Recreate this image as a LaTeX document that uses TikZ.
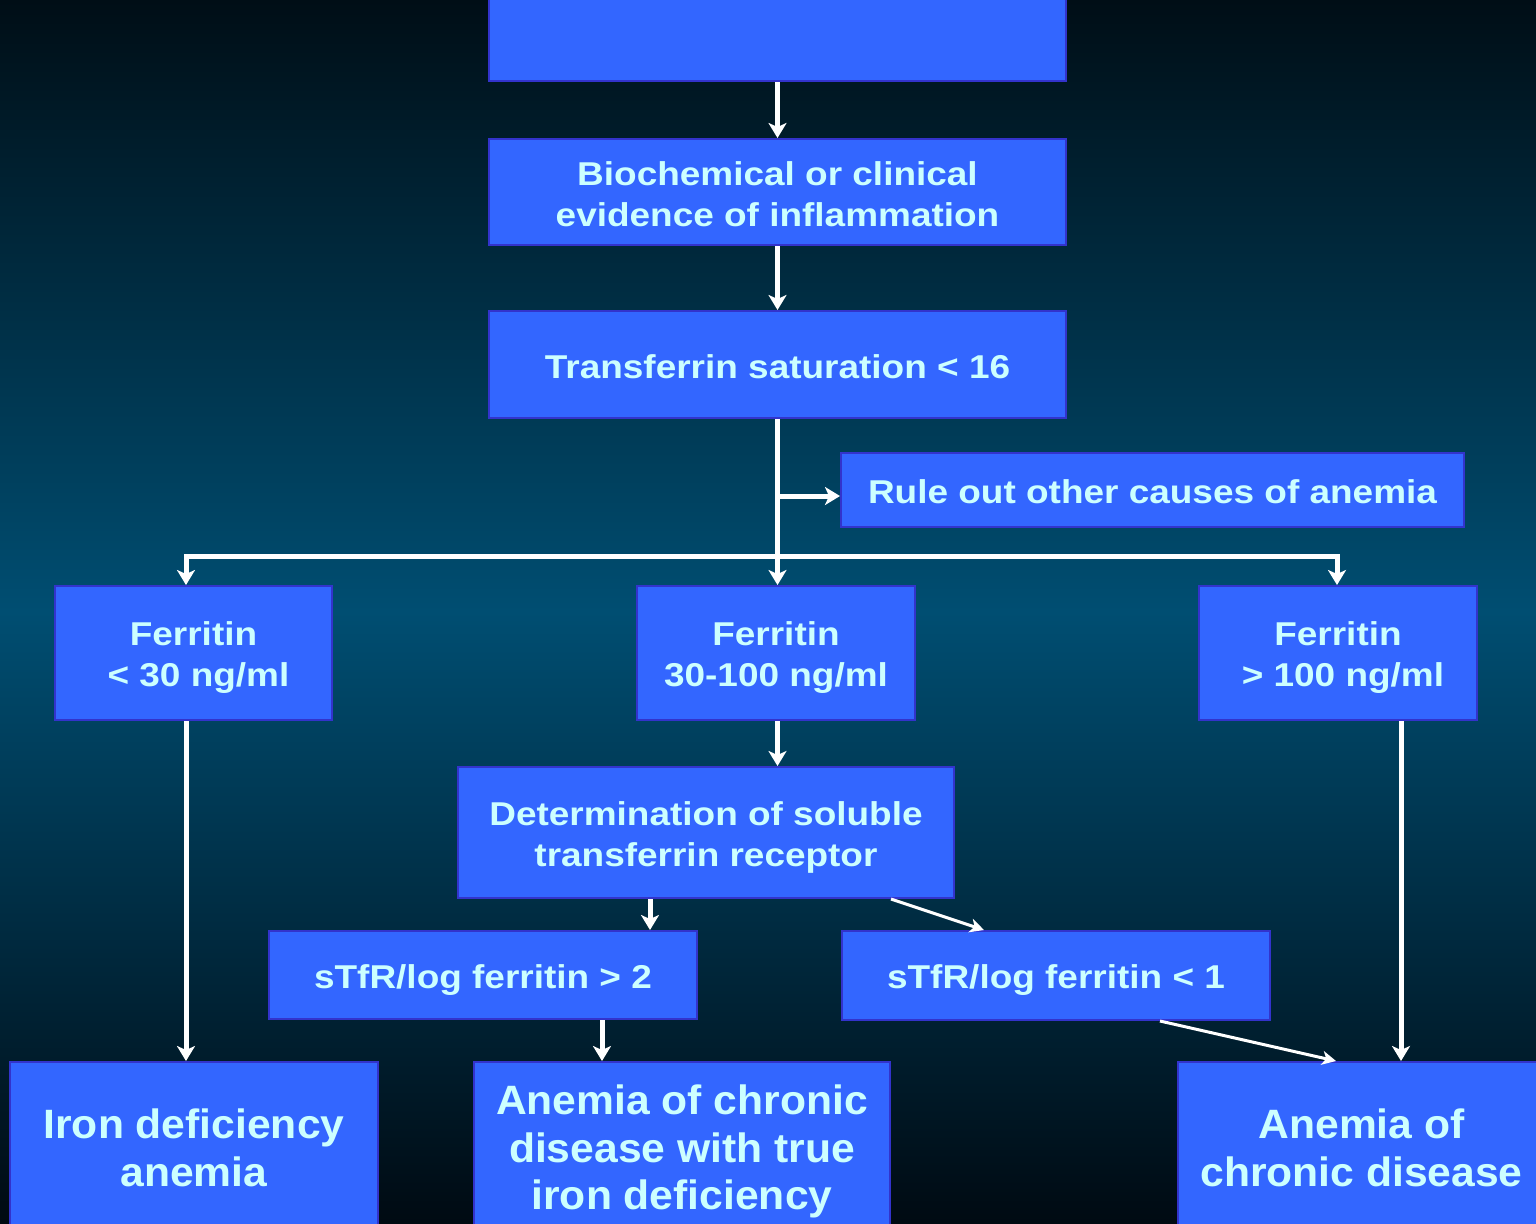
\documentclass[tikz,border=0pt]{standalone}
\usepackage{fontspec}
\setmainfont{Liberation Sans}
\newfontfamily\medfont{Liberation Sans}[FakeStretch=1.12]
\newfontfamily\bigfont{Liberation Sans}[FakeStretch=1.04]
\usetikzlibrary{arrows.meta,calc}
\definecolor{boxfill}{HTML}{3366FF}
\definecolor{boxline}{HTML}{3333CC}
\definecolor{txt}{HTML}{CCFFFF}
\definecolor{bgtop}{RGB}{0,14,22}
\definecolor{bgmid}{RGB}{0,78,114}
\definecolor{bgbot}{RGB}{0,10,18}
\tikzset{
  box/.style={draw=boxline, line width=1pt, fill=boxfill, inner sep=0pt},
  tx/.style={text=txt, inner sep=0pt, align=center,
    font=\medfont\bfseries\fontsize{16.5}{20.5}\selectfont},
  bigtx/.style={text=txt, inner sep=0pt, align=center,
    font=\bigfont\bfseries\fontsize{20.5}{23.75}\selectfont},
  arr/.style={draw=white, line width=2.5pt, -{Stealth[length=7.5pt,width=9pt,inset=2pt]}},
  thin/.style={draw=white, line width=1.5pt, -{Stealth[length=7pt,width=7pt,inset=2pt]}},
}
\begin{document}
\begin{tikzpicture}[x=0.5pt,y=-0.5pt]
\useasboundingbox (0,0) rectangle (1536,1223);
\clip (0,0) rectangle (1536,1223);
\shade[top color=bgtop, bottom color=bgmid] (0,0) rectangle (1536,612);
\shade[top color=bgmid, bottom color=bgbot] (0,611) rectangle (1536,1223);

\node[box, minimum width=288.5pt, minimum height=51pt] (b0) at (777.5,30) {};
\node[box, minimum width=288.5pt, minimum height=53pt] (b1) at (777.5,192) {};
\node[box, minimum width=288.5pt, minimum height=53.5pt] (b2) at (777.5,364.5) {};
\node[box, minimum width=311.5pt, minimum height=37pt] (rule) at (1152.5,490) {};
\node[box, minimum width=138.5pt, minimum height=67pt] (fL) at (193.5,653) {};
\node[box, minimum width=139pt, minimum height=67pt] (fM) at (776,653) {};
\node[box, minimum width=139pt, minimum height=67pt] (fR) at (1338,653) {};
\node[box, minimum width=248pt, minimum height=65.5pt] (det) at (706,832.5) {};
\node[box, minimum width=214pt, minimum height=44pt] (s2) at (483,975) {};
\node[box, minimum width=214pt, minimum height=44.5pt] (s1) at (1056,975.5) {};
\node[box, minimum width=184pt, minimum height=86pt] (ida) at (194,1148) {};
\node[box, minimum width=208pt, minimum height=85.5pt] (acdt) at (682,1147.5) {};
\node[box, minimum width=183.5pt, minimum height=86pt] (acd) at (1361.5,1148) {};

\node[tx, yshift=-1pt] (b1t) at (b1) {Biochemical or clinical\\evidence of inflammation};
\node[tx, yshift=-1pt] (b2t) at (b2) {Transferrin saturation < 16};
\node[tx, yshift=-1pt] (rulet) at (rule) {Rule out other causes of anemia};
\node[tx, yshift=-2.5pt] (fLt) at (fL) {Ferritin\\\hspace*{0.3em}< 30 ng/ml};
\node[tx, yshift=-2.5pt] (fMt) at (fM) {Ferritin\\30-100 ng/ml};
\node[tx, yshift=-2.5pt] (fRt) at (fR) {Ferritin\\\hspace*{0.3em}> 100 ng/ml};
\node[tx, yshift=-2.5pt] (dett) at (det) {Determination of soluble\\transferrin receptor};
\node[tx, yshift=-2.5pt] (s2t) at (s2) {sTfR/log ferritin > 2};
\node[tx, yshift=-2.5pt] (s1t) at (s1) {sTfR/log ferritin < 1};
\node[bigtx] (idat) at (ida) {Iron deficiency\\anemia};
\node[bigtx, yshift=-2pt] (acdtt) at (acdt) {Anemia of chronic\\disease with true\\iron deficiency};
\node[bigtx] (acdtx) at (acd) {Anemia of\\chronic disease};

\draw[arr] (b0.south) -- (b1.north);
\draw[arr] (b1.south) -- (b2.north);
\draw[arr] (b2.south) -- (b2.south |- fM.north);
\coordinate (rw) at ($(rule.west)+(0,6)$);
\draw[arr] (b2.south |- rw) -- (rw);
\coordinate (hb) at (b2.south |- 0,556);
\coordinate (hl) at ($(fL.north)+(-7.5,0)$);
\coordinate (hr) at ($(fR.north)+(-1,0)$);
\draw[arr] (hb) -| (hl);
\draw[arr] (hb) -| (hr);
\coordinate (fLs) at ($(fL.south)+(-7.5,0)$);
\draw[arr] (fLs) -- (fLs |- ida.north);
\draw[arr] (b2.south |- fM.south) -- (b2.south |- det.north);
\coordinate (ds) at ($(det.south)+(-56,0)$);
\draw[arr] (ds) -- (ds |- s2.north);
\draw[thin] ($(det.south east)+(-64,0)$) -- ($(s1.north west)+(143,0)$);
\coordinate (s2s) at ($(s2.south)+(119,0)$);
\draw[arr] (s2s) -- (s2s |- acdt.north);
\draw[thin] ($(s1.south)+(104,0)$) -- ($(acd.north west)+(159,0)$);
\coordinate (fRs) at ($(fR.south)+(63,0)$);
\draw[arr] (fRs) -- (fRs |- acd.north);
\end{tikzpicture}
\end{document}
